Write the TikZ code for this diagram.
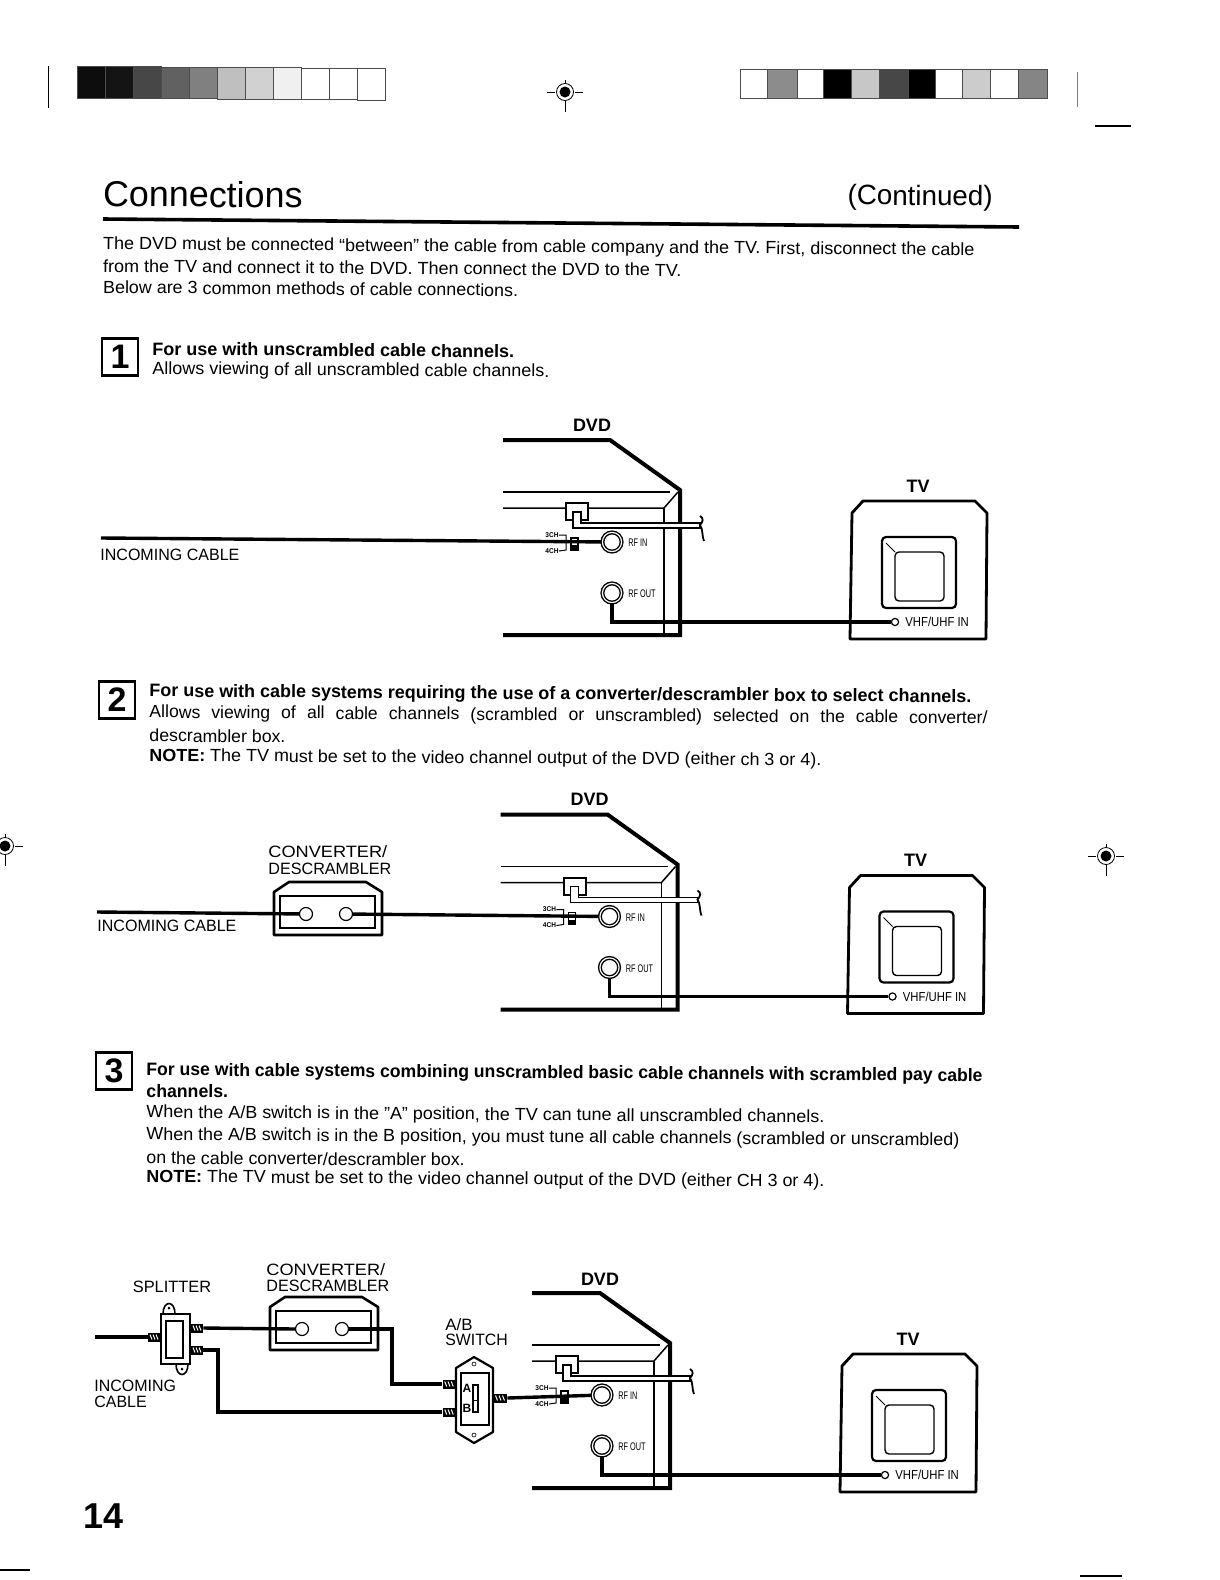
\documentclass[tikz,border=0pt]{standalone}
\usepackage{fontspec}
\usepackage{graphicx}
\setmainfont{Liberation Sans}
\newdimen\du \du=0.5037pt
\tikzset{
  txt/.style={anchor=west,inner sep=0pt,rotate=-0.4},
  lab/.style={inner sep=0pt},
  cable/.style={line width=1.7pt,line join=miter},
  wall/.style={line width=2pt,line join=miter},
  thin line/.style={line width=0.75pt},
  jack/.style={circle,draw,fill=white,line width=0.7pt,double,double distance=0.6pt,minimum size=9.6pt,inner sep=0pt},
  port/.style={circle,draw,fill=white,line width=0.6pt,minimum size=3.6pt,inner sep=0pt},
  cport/.style={circle,draw,fill=white,line width=0.6pt,minimum size=6.5pt,inner sep=0pt},
  numbox/.style={draw,line width=1.1pt,inner sep=0pt,minimum width=18pt,minimum height=18.5pt,font=\bfseries\fontsize{17}{17}\selectfont},
  screwbox/.style={fill=black,inner sep=0pt,minimum height=4.5pt},
}
\newcommand\tl[6]{\node[txt] (#1) at ({#2*1.0074},{(#3+2)*1.0074}) {\resizebox{#4\du}{\height}{\fontsize{#5}{#5}\selectfont #6}};}
\newcommand\lb[6]{\node[lab,anchor=west] (#1) at (#2,#3) {\resizebox{#4\du}{\height}{\fontsize{#5}{#5}\selectfont #6}};}
\newcommand\regmark[3]{%
  \draw[line width=0.5pt] (#2-18,#3)--(#2-10,#3) (#2+10,#3)--(#2+18,#3) (#2,#3-12)--(#2,#3-8) (#2,#3+8)--(#2,#3+20);
  \node[circle,draw,line width=0.4pt,minimum size=8.5pt,inner sep=0pt] (#1) at (#2,#3) {};
  \fill (#2,#3) circle (5.5);
}
\newcommand\screw[4]{%
  \node[screwbox,minimum width=#4*0.5pt] (#1) at (#2,#3) {};
  \foreach \q in {-0.25,0,0.25}{\draw[white,line width=0.5pt] (#2+\q*#4-1,#3-2.5)--(#2+\q*#4+1,#3+2.5);}
}
% prefix, dx, dy, left end of DVD, dvd label x, dvd label y
\newcommand\dvdtv[6]{%
\begin{scope}[shift={(#2,#3)},name prefix=#1-]
  \draw[wall] (#4,440)--(610,440)--(680,490)--(680,635)--(#4,635);
  \draw[thin line] (#4,492)--(670,492);
  \draw[thin line] (#4,508)--(664,508)--(678,492);
  \draw[thin line] (664,508)--(664,635);
  \draw[line width=1pt,fill=white] (566,520)--(566,503)--(588,503)--(588,520)--cycle;
  \draw[thin line,fill=white] (573,512)--(581,512)--(581,523)--(700,523)--(700,528)--(573,528)--cycle;
  \draw[line width=0.9pt] (700,516)..controls (704,518) and (703,522)..(700,525)..controls (703,528) and (702,538)..(704,541);
  \node[lab] (ch3) at (552,535) {\resizebox{13\du}{\height}{\fontsize{3.5}{3.5}\selectfont\bfseries 3CH}};
  \node[lab] (ch4) at (552,551) {\resizebox{13\du}{\height}{\fontsize{3.5}{3.5}\selectfont\bfseries 4CH}};
  \draw[line width=0.5pt] (ch3.east) -| (566,550) -- (ch4.east);
  \draw[line width=0.6pt,fill=white] (571,538) rectangle (578,550);
  \fill (571,545) rectangle (578,550);
  \node[jack] (rfin) at (612,542) {};
  \node[jack] (rfout) at (612,593) {};
  \lb{rfinl}{628}{543}{19}{5.5}{RF IN}
  \lb{rfoutl}{628}{594}{27}{5.5}{RF OUT}
  \node[lab,font=\bfseries\fontsize{9}{9}\selectfont] (dvdl) at (#5,#6) {DVD};
  \draw[wall,line width=1.4pt,line join=bevel] (852,639)--(850,639)--(852,513)--(863,501)--(975,501)--(987,513)--(986,639)--cycle;
  \draw[line width=1.1pt,rounded corners=2pt] (882,537) rectangle (956,608);
  \draw[line width=0.7pt,rounded corners=2pt] (895,552) rectangle (944,601);
  \draw[line width=0.5pt] (886,543)--(895,552);
  \node[lab,font=\bfseries\fontsize{9}{9}\selectfont] (tvl) at (918,486) {TV};
  \node[port] (vhf) at (895,622) {};
  \lb{vhfl}{905}{622}{63}{6.5}{VHF/UHF IN}
  \draw[cable] (rfout.south) |- (vhf.west);
\end{scope}}
\newcommand\conv[3]{% name, left, top
\begin{scope}[shift={(#2,#3)},name prefix=#1-]
  \draw[line width=1.3pt,line join=bevel] (0,53)--(0,10)--(15,0)--(92,0)--(108,10)--(108,53)--cycle;
  \draw[line width=0.6pt] (6,14) rectangle (101,46);
  \node[cport] (a) at (32,32) {};
  \node[cport] (b) at (72,32) {};
\end{scope}}
\begin{document}
\begin{tikzpicture}[x=0.5pt,y=-0.5pt]
\useasboundingbox (0,0) rectangle (1220,1580);
\fill[white] (0,0) rectangle (1220,1580);
% header marks
\draw[line width=0.5pt] (48,66)--(48,108);
\draw[line width=0.5pt,gray] (1077,72)--(1077,107);
\draw[line width=0.6pt] (1095,126)--(1131,126);
\draw[line width=0.6pt] (1080,1576)--(1122,1576);
\draw[line width=0.6pt] (0,1570)--(30,1570);
% left bar
\foreach \i/\g in {0/95,1/92,2/72,3/62,4/50,5/25,6/18,7/6,8/0,9/0,10/0}{
  \draw[line width=0.5pt,black!70,fill=black!\g] ({77+\i*28},{66.5+\i*0.2}) rectangle ({105+\i*28},{98+\i*0.2});
}
% right bar
\foreach \l/\r/\g in {740/767/0,767/797/45,797/823/0,823/851/100,851/879/22,879/908/72,908/935/100,935/962/0,962/990/20,990/1018/0,1018/1047/48}{
  \draw[line width=0.5pt,black!70,fill=black!\g] (\l,69) rectangle (\r,98);
}
\regmark{rm1}{565}{92}
\regmark{rm2}{5}{846}
\regmark{rm3}{1106}{856}
% title
\tl{ttl}{102}{190}{198}{18}{Connections}
\tl{cont}{841}{194}{144}{14}{(Continued)}
\draw[line width=1.8pt] (103,219)--(1019,227);
\tl{p1}{102}{241}{865}{8.8}{The DVD must be connected “between” the cable from cable company and the TV. First, disconnect the cable}
\tl{p2}{102}{262}{574}{8.8}{from the TV and connect it to the DVD. Then connect the DVD to the TV.}
\tl{p3}{102}{283}{412}{8.8}{Below are 3 common methods of cable connections.}
% section 1
\node[numbox] (n1) at (120,357) {1};
\tl{s1a}{151}{344}{359}{9}{\bfseries For use with unscrambled cable channels.}
\tl{s1b}{151}{365}{394}{8.8}{Allows viewing of all unscrambled cable channels.}
\dvdtv{d1}{0}{0}{503}{592}{425}
\coordinate (in1) at (101,538);
\draw[cable] (in1) -- (d1-rfin);
\lb{inl1}{100}{555}{138}{8.2}{INCOMING CABLE}
% section 2
\node[numbox] (n2) at (117,700) {2};
\tl{s2a}{148}{685}{816}{9}{\bfseries For use with cable systems requiring the use of a converter/descrambler box to select channels.}
\node[txt] (s2b) at ({148*1.0074},{708*1.0074}) {\fontsize{8.8}{8.8}\selectfont\makebox[832\du][s]{Allows viewing of all cable channels (scrambled or unscrambled) selected on the cable converter/}};
\tl{s2c}{148}{728}{135}{8.8}{descrambler box.}
\tl{s2d}{148}{749}{667}{8.8}{\textbf{NOTE:} The TV must be set to the video channel output of the DVD (either ch 3 or 4).}
\dvdtv{d2}{-2.5}{374.5}{503}{592}{425}
\conv{c2}{274}{882}
\coordinate (in2) at (97,912);
\draw[cable] (in2) -- (c2-a);
\draw[cable] (c2-b) -- (d2-rfin);
\lb{inl2}{97}{926}{138}{8.2}{INCOMING CABLE}
\lb{cv2a}{268}{852}{118}{8.2}{CONVERTER/}
\lb{cv2b}{268}{869}{122}{8.2}{DESCRAMBLER}
% section 3
\node[numbox] (n3) at (114,1071) {3};
\tl{s3a}{145}{1061}{830}{9}{\bfseries For use with cable systems combining unscrambled basic cable channels with scrambled pay cable}
\tl{s3b}{145}{1081}{81}{9}{\bfseries channels.}
\tl{s3c}{145}{1103}{673}{8.8}{When the A/B switch is in the "A" position, the TV can tune all unscrambled channels.}
\tl{s3d}{145}{1125}{807}{8.8}{When the A/B switch is in the B position, you must tune all cable channels (scrambled or unscrambled)}
\tl{s3e}{145}{1147}{316}{8.8}{on the cable converter/descrambler box.}
\tl{s3f}{145}{1167}{673}{8.8}{\textbf{NOTE:} The TV must be set to the video channel output of the DVD (either CH 3 or 4).}
\dvdtv{d3}{-10}{853}{542}{610}{426}
% splitter
\draw[line width=0.8pt,fill=white] (163,1314)..controls (163,1300) and (175,1300)..(175,1314);
\draw[line width=0.8pt,fill=white] (176,1364)..controls (176,1378) and (188,1378)..(188,1364);
\fill (169,1308) circle (1.5);
\fill (182,1369) circle (1.5);
\node[draw,line width=1.3pt,fill=white,minimum width=14.5pt,minimum height=25pt,inner sep=0pt] (split) at (175.5,1339) {};
\draw[line width=0.7pt] (166,1321) rectangle (183,1358);
\screw{sw1}{154}{1337}{12}
\screw{sw2}{197}{1328}{12}
\screw{sw3}{197}{1350}{12}
\coordinate (in3) at (95,1337);
\draw[cable] (in3) -- (sw1);
\conv{c3}{270}{1297}
\draw[cable] (sw2.east) -- (c3-a.west);
% switch
\draw[line width=1.1pt,fill=white,line join=bevel] (456,1368)--(474,1357)--(493,1368)--(493,1432)--(474,1443)--(456,1432)--cycle;
\draw[line width=0.6pt] (461,1373) rectangle (489,1425);
\node[circle,draw,line width=0.3pt,minimum size=2pt,inner sep=0pt] (sa) at (474,1364) {};
\node[circle,draw,line width=0.3pt,minimum size=2pt,inner sep=0pt] (sb) at (474,1435) {};
\node[lab,font=\bfseries\fontsize{6}{6}\selectfont] (al) at (467,1388) {A};
\node[lab,font=\bfseries\fontsize{6}{6}\selectfont] (bl) at (467,1408) {B};
\draw[line width=0.6pt] (473,1385) rectangle (478,1412);
\draw[line width=0.5pt] (473,1400)--(478,1400);
\screw{sw4}{449}{1384}{13}
\screw{sw5}{449}{1412}{13}
\screw{sw6}{500}{1398}{14}
\draw[cable] (c3-b.east) -| (392,1384) -- (sw4.west);
\draw[cable] (sw3.east) -| (218,1412) -- (sw5.west);
\draw[cable] (sw6.east) -- (d3-rfin);
\node[lab,font=\fontsize{8.2}{8.2}\selectfont] (spl) at (172,1287) {SPLITTER};
\lb{inc3a}{94}{1386}{81}{8.2}{INCOMING}
\lb{inc3b}{94}{1402}{52}{8.2}{CABLE}
\lb{cv3a}{266}{1270}{118}{8.2}{CONVERTER/}
\lb{cv3b}{266}{1286}{122}{8.2}{DESCRAMBLER}
\lb{ab3a}{445}{1325}{27}{8.2}{A/B}
\lb{ab3b}{445}{1340}{62}{8.2}{SWITCH}
\node[lab,anchor=west,font=\bfseries\fontsize{18}{18}\selectfont] (pg) at (83,1516) {14};
\end{tikzpicture}
\end{document}
